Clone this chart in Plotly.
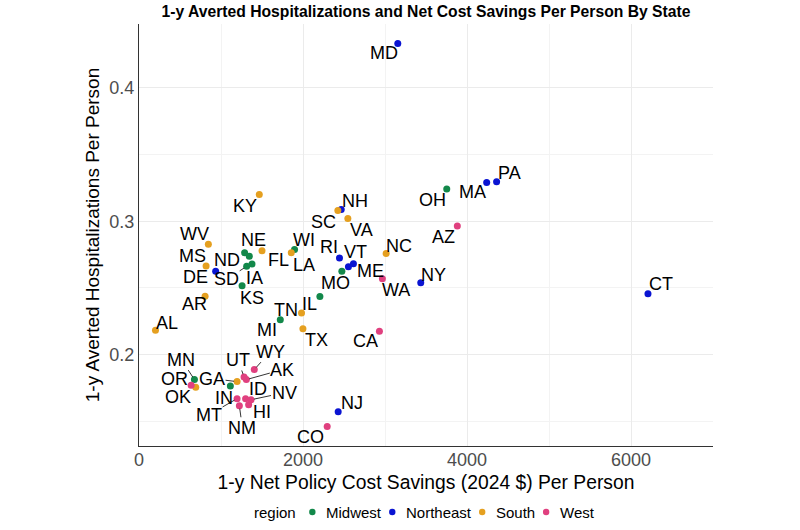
import plotly.graph_objects as go

# ---- data ----
states = ["AL","AK","AZ","AR","CA","CO","CT","DE","FL","GA","HI","ID","IL","IN","IA",
          "KS","KY","LA","ME","MD","MA","MI","MN","MS","MO","MT","NE","NV","NH","NJ",
          "NM","NY","NC","ND","OH","OK","OR","PA","RI","SC","SD","TN","TX","UT","VT",
          "VA","WA","WV","WI","WY"]
regions = ["South","West","West","South","West","West","Northeast","Northeast","South","South",
           "West","West","Midwest","Midwest","Midwest","Midwest","South","South","Northeast","Northeast",
           "Northeast","Midwest","Midwest","South","Midwest","West","Midwest","West","Northeast","Northeast",
           "West","Northeast","South","Midwest","Midwest","South","West","Northeast","Northeast","South",
           "Midwest","South","South","West","Northeast","South","West","South","Midwest","West"]
cost_savings = [201,1309,3882,806,2932,2295,6207,935,1500,1196,1337,1300,2206,1114,1378,
                1257,1467,1857,2554,3156,4240,1723,676,818,2474,1196,1345,1366,2466,2429,
                1224,3436,3014,1288,3753,692,636,4361,2445,2425,1313,1982,1999,1281,2615,
                2547,2968,846,1897,1406]
hosp_averted = [0.2182,0.1812,0.2965,0.2437,0.2174,0.1461,0.2457,0.2625,0.2778,0.1797,0.1624,0.1669,0.2435,0.1764,0.2680,
                0.2517,0.3200,0.2763,0.2658,0.4334,0.3291,0.2262,0.1812,0.2665,0.2625,0.1669,0.2737,0.1661,0.3088,0.1571,
                0.1616,0.2538,0.2758,0.2763,0.3243,0.1754,0.1769,0.3296,0.2725,0.3080,0.2662,0.2312,0.2194,0.1832,0.2682,
                0.3020,0.2568,0.2827,0.2788,0.1887]
region_order = ["Midwest", "Northeast", "South", "West"]
region_colors = {"Midwest": "#12884A", "Northeast": "#0A14D2", "South": "#E5A020", "West": "#E0407F"}

# label placement (pixel offsets from the point, repel-style) and which ones get a segment
label_offset = {
    "AL": (12, -7), "AK": (36, -10), "AZ": (-14, 11), "AR": (-11, 8), "CA": (-14, 10),
    "CO": (-17, 11), "CT": (13, -10), "DE": (-20, 6), "FL": (16, 9), "GA": (-25, -3),
    "HI": (13, 7), "ID": (12, -10), "IL": (-10, 7), "IN": (-6, 12), "IA": (2, 14),
    "KS": (10, 12), "KY": (-14, 11), "LA": (13, 12), "ME": (22, 4), "MD": (-14, 10),
    "MA": (-14, 10), "MI": (-13, 10), "MN": (-13, -20), "MS": (-14, -10), "MO": (-6, 12),
    "MT": (-28, 16), "NE": (4, -16), "NV": (33, -7), "NH": (14, -9), "NJ": (14, -9),
    "NM": (3, 22), "NY": (13, -8), "NC": (13, -8), "ND": (-18, 7), "OH": (-14, 11),
    "OK": (-18, 10), "OR": (-17, -6), "PA": (13, -9), "RI": (-10, -11), "SC": (-14, 11),
    "SD": (-20, 13), "TN": (-16, -3), "TX": (14, 11), "UT": (-6, -17), "VT": (2, -12),
    "VA": (14, 11), "WA": (14, 11), "WV": (-14, -10), "WI": (9, -10), "WY": (16, -18),
}
segment_states = {"AK", "GA", "MN", "MT", "NM", "NV", "UT", "WY", "SD"}

FONT = "Liberation Sans, Arial, Helvetica, sans-serif"
W, H = 800, 530
ML, MR, MT_, MB = 138.5, 87, 24, 84
PW, PH = W - ML - MR, H - MT_ - MB


def px_to_paper_x(px):
    return (px - ML) / PW


def px_to_paper_y(py):
    return (H - MB - py) / PH


fig = go.Figure()
for reg in region_order:
    idx = [i for i, r in enumerate(regions) if r == reg]
    fig.add_trace(go.Scatter(
        x=[cost_savings[i] for i in idx],
        y=[hosp_averted[i] for i in idx],
        mode="markers",
        name=reg,
        text=[states[i] for i in idx],
        marker=dict(color=region_colors[reg], size=7, line=dict(width=0)),
        hovertemplate="%{text}<br>%{x}<br>%{y}<extra></extra>",
        showlegend=False,
    ))

for s, xv, yv in zip(states, cost_savings, hosp_averted):
    dx, dy = label_offset[s]
    seg = s in segment_states
    fig.add_annotation(
        x=xv, y=yv, xref="x", yref="y", text=s, showarrow=True,
        ax=dx, ay=dy, axref="pixel", ayref="pixel",
        arrowhead=0, arrowwidth=0.8, standoff=3,
        arrowcolor="#000000" if seg else "rgba(0,0,0,0)",
        font=dict(family=FONT, size=18, color="#000000"),
        borderpad=0,
    )

# ---- legend (ggplot-style, bottom, horizontal) ----
leg_y = px_to_paper_y(512)
fig.add_annotation(x=px_to_paper_x(298), y=leg_y, xref="paper", yref="paper", text="region",
                   showarrow=False, xanchor="right", yanchor="middle",
                   font=dict(family=FONT, size=15, color="#000000"))
leg_dot_px = [312, 392, 482, 546]
for reg, dpx in zip(region_order, leg_dot_px):
    fig.add_shape(type="circle", xref="paper", yref="paper",
                  xsizemode="pixel", ysizemode="pixel",
                  xanchor=px_to_paper_x(dpx), yanchor=leg_y,
                  x0=-3.2, x1=3.2, y0=-3.2, y1=3.2,
                  fillcolor=region_colors[reg], line=dict(width=0))
    fig.add_annotation(x=px_to_paper_x(dpx + 12), y=leg_y, xref="paper", yref="paper", text=reg,
                       showarrow=False, xanchor="left", yanchor="middle",
                       font=dict(family=FONT, size=15, color="#000000"))

fig.update_layout(
    width=W, height=H,
    margin=dict(l=ML, r=MR, t=MT_, b=MB, autoexpand=False),
    paper_bgcolor="white", plot_bgcolor="white",
    font=dict(family=FONT, color="#000000"),
    title=dict(text="<b>1-y Averted Hospitalizations and Net Cost Savings Per Person By State</b>",
               x=0.5, xref="paper", xanchor="center", y=1 - 12 / H, yref="container",
               yanchor="middle", font=dict(family=FONT, size=15.7, color="#000000")),
    showlegend=False,
)

fig.update_xaxes(
    range=[0, 7000], tickvals=[0, 2000, 4000, 6000], ticktext=["0", "2000", "4000", "6000"],
    showgrid=True, gridcolor="#EBEBEB", gridwidth=1,
    minor=dict(tickvals=[1000, 3000, 5000, 7000], showgrid=True, gridcolor="#F3F3F3", gridwidth=1),
    zeroline=False, showline=True, linecolor="#333333", linewidth=1,
    ticks="", ticklabelstandoff=-3,
    tickfont=dict(family=FONT, size=18, color="#4D4D4D"),
    title=dict(text="1-y Net Policy Cost Savings (2024 $) Per Person",
               font=dict(family=FONT, size=19.3, color="#000000"), standoff=6),
)
fig.update_yaxes(
    range=[0.1314, 0.448], tickvals=[0.2, 0.3, 0.4], ticktext=["0.2", "0.3", "0.4"],
    showgrid=True, gridcolor="#EBEBEB", gridwidth=1,
    minor=dict(tickvals=[0.15, 0.25, 0.35, 0.45], showgrid=True, gridcolor="#F3F3F3", gridwidth=1),
    zeroline=False, showline=True, linecolor="#333333", linewidth=1,
    ticks="",
    tickfont=dict(family=FONT, size=18, color="#4D4D4D"),
    title=dict(text="1-y Averted Hospitalizations Per Person",
               font=dict(family=FONT, size=19, color="#000000"), standoff=4),
)

fig.write_html("out.html", config={"displayModeBar": False},
               post_script="document.body.style.margin='0px';")
